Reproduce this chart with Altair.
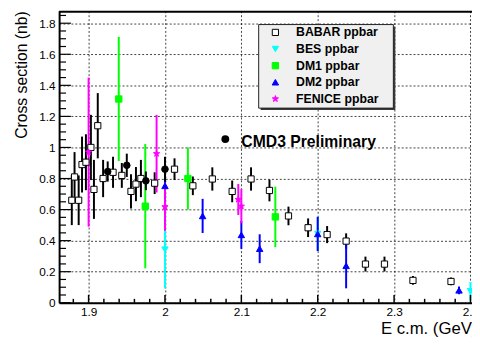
import altair as alt
import pandas as pd

FONT = "Liberation Sans"

# ---------------- data ----------------
babar_e = [1.878, 1.8816, 1.887, 1.8914, 1.8965, 1.903, 1.907, 1.912, 1.919, 1.932,
           1.9435, 1.9555, 1.962, 1.9685, 1.9865, 2.0125, 2.0365, 2.062, 2.088, 2.1127,
           2.1368, 2.1617, 2.1874, 2.2123, 2.2372, 2.2625, 2.2874, 2.3247, 2.3745]
babar_v = [0.66, 0.81, 0.66, 0.89, 0.905, 1.00, 0.73, 1.14, 0.80, 0.84,
           0.82, 0.717, 0.764, 0.80, 0.77, 0.86, 0.753, 0.797, 0.717, 0.797,
           0.723, 0.559, 0.483, 0.439, 0.397, 0.249, 0.249, 0.144, 0.137]
babar_err = [0.16, 0.16, 0.16, 0.18, 0.18, 0.21, 0.19, 0.21, 0.12, 0.10,
             0.08, 0.11, 0.11, 0.12, 0.07, 0.07, 0.06, 0.075, 0.07, 0.075,
             0.07, 0.06, 0.06, 0.055, 0.05, 0.048, 0.048, 0.028, 0.025]

bes_e = [2.0, 2.2, 2.4]
bes_v = [0.342, 0.443, 0.074]
bes_err = [0.25, 0.11, 0.06]

dm1_e = [1.9395, 1.9742, 2.030, 2.1445]
dm1_v = [1.312, 0.622, 0.80, 0.553]
dm1_err = [0.40, 0.40, 0.20, 0.195]

dm2_e = [2.0, 2.0493, 2.1, 2.124, 2.2, 2.2372, 2.385]
dm2_v = [0.753, 0.559, 0.437, 0.348, 0.443, 0.238, 0.08]
dm2_err = [0.10, 0.11, 0.09, 0.093, 0.11, 0.145, 0.025]

fenice_e = [1.9, 1.989, 2.0, 2.096, 2.1]
fenice_v = [0.97, 0.96, 0.618, 0.665, 0.622]
fenice_err = [0.48, 0.25, 0.155, 0.10, 0.11]

cmd3_e = [1.925, 1.95, 1.975, 2.0]
cmd3_v = [0.845, 0.885, 0.785, 0.86]
cmd3_err = [0.065, 0.075, 0.06, 0.08]

series = ["BABAR ppbar", "BES ppbar", "DM1 ppbar", "DM2 ppbar", "FENICE ppbar", "CMD3"]
legend_series = series[:5]

x_major = [1.9, 2.0, 2.1, 2.2, 2.3, 2.4]
x_minor = [1.88, 1.92, 1.94, 1.96, 1.98, 2.02, 2.04, 2.06, 2.08, 2.12, 2.14, 2.16, 2.18,
           2.22, 2.24, 2.26, 2.28, 2.32, 2.34, 2.36, 2.38]
y_major = [0, 0.2, 0.4, 0.6, 0.8, 1.0, 1.2, 1.4, 1.6, 1.8]
y_minor = [0.05, 0.1, 0.15, 0.25, 0.3, 0.35, 0.45, 0.5, 0.55, 0.65, 0.7, 0.75,
           0.85, 0.9, 0.95, 1.05, 1.1, 1.15, 1.25, 1.3, 1.35, 1.45, 1.5, 1.55,
           1.65, 1.7, 1.75, 1.85]

annot_text = "CMD3 Preliminary"
annot_x, annot_y = 2.1, 1.0
annot_dot_x, annot_dot_y = 2.079, 1.054

# ---------------- styles ----------------
STAR = ("M0,-1L0.235,-0.324L0.951,-0.309L0.38,0.124L0.588,0.809L0,0.4"
        "L-0.588,0.809L-0.38,0.124L-0.951,-0.309L-0.235,-0.324Z")
colors = ["#000000", "#00ffff", "#00ff00", "#0000ff", "#ff00ff", "#000000"]
fills = ["#ffffff", "#00ffff", "#00ff00", "#0000ff", "#ff00ff", "#000000"]
shapes = ["square", "triangle-down", "square", "triangle-up", STAR, "circle"]
sizes = [40, 45, 45, 45, 70, 64]

W, H = 420, 297

# ---------------- tables ----------------
parts = []
for name, e, v, err in [
    (series[0], babar_e, babar_v, babar_err),
    (series[1], bes_e, bes_v, bes_err),
    (series[2], dm1_e, dm1_v, dm1_err),
    (series[3], dm2_e, dm2_v, dm2_err),
    (series[4], fenice_e, fenice_v, fenice_err),
    (series[5], cmd3_e, cmd3_v, cmd3_err),
]:
    parts.append(pd.DataFrame({"s": name, "E": e, "v": v, "err": err}))
df = pd.concat(parts, ignore_index=True)
df["lo"] = df["v"] - df["err"]
df["hi"] = df["v"] + df["err"]

leg = pd.DataFrame({"s": legend_series, "i": list(range(len(legend_series)))})

xscale = alt.Scale(domain=[1.8614, 2.402], nice=False, zero=False)
yscale = alt.Scale(domain=[0, 1.88], nice=False, zero=False)
cscale = alt.Scale(domain=series, range=colors)
fscale = alt.Scale(domain=series, range=fills)
shscale = alt.Scale(domain=series, range=shapes)
szscale = alt.Scale(domain=series, range=sizes)

xaxis = alt.Axis(values=x_major, format="~g", title="E c.m. (GeV)", ticks=False,
                 domainWidth=2, domainColor="black", labelFont=FONT, labelFontSize=12,
                 labelColor="black", labelPadding=4, labelFlush=False, labelOverlap=False,
                 grid=True, gridDash=[2, 2], gridColor="black", gridWidth=1, gridOpacity=0.75,
                 titleFont=FONT, titleFontSize=17, titleFontWeight="normal", titleColor="black",
                 titleX=425, titleY=31, titleAlign="right", titleBaseline="alphabetic")
yaxis = alt.Axis(values=y_major, format="~g", title="Cross section (nb)", ticks=False,
                 domainWidth=2, domainColor="black", labelFont=FONT, labelFontSize=12,
                 labelColor="black", labelPadding=4, labelFlush=False, labelOverlap=False,
                 grid=True, gridDash=[2, 2], gridColor="black", gridWidth=1, gridOpacity=0.75,
                 titleFont=FONT, titleFontSize=16, titleFontWeight="normal", titleColor="black",
                 titleX=-33, titleY=0, titleAngle=270, titleAlign="right",
                 titleBaseline="alphabetic")


def X(field):
    return alt.X(field, scale=xscale, axis=xaxis)


def Y(field):
    return alt.Y(field, scale=yscale, axis=yaxis)


one = pd.DataFrame({"a": [0]})

bars = alt.Chart(df).mark_rule(strokeWidth=2).encode(
    x=X("E:Q"), y=Y("lo:Q"), y2="hi:Q",
    color=alt.Color("s:N", scale=cscale, legend=None),
)

pts = alt.Chart(df).mark_point(opacity=1, strokeWidth=1).encode(
    x=X("E:Q"), y=Y("v:Q"),
    shape=alt.Shape("s:N", scale=shscale, legend=None),
    fill=alt.Fill("s:N", scale=fscale, legend=None),
    stroke=alt.Stroke("s:N", scale=cscale, legend=None),
    size=alt.Size("s:N", scale=szscale, legend=None),
)

ytick_minor = alt.Chart(pd.DataFrame({"v": y_minor})).mark_rule(color="black", strokeWidth=1.2).encode(
    y=Y("v:Q"), x=alt.value(0), x2=alt.value(7))
ytick_major = alt.Chart(pd.DataFrame({"v": y_major})).mark_rule(color="black", strokeWidth=1.2).encode(
    y=Y("v:Q"), x=alt.value(0), x2=alt.value(12))
xtick_minor = alt.Chart(pd.DataFrame({"E": x_minor})).mark_rule(color="black", strokeWidth=1.5).encode(
    x=X("E:Q"), y=alt.value(H), y2=alt.value(H - 4))
xtick_major = alt.Chart(pd.DataFrame({"E": x_major})).mark_rule(color="black", strokeWidth=1.5).encode(
    x=X("E:Q"), y=alt.value(H), y2=alt.value(H - 8))

top_line = alt.Chart(one).mark_rule(color="black", strokeWidth=2).encode(
    x=alt.value(0), x2=alt.value(W + 20), y=alt.value(1))

leg_shadow = alt.Chart(one).mark_rect(fill="#3a3a3a").encode(
    x=alt.value(205), x2=alt.value(342), y=alt.value(16), y2=alt.value(101))
leg_box = alt.Chart(one).mark_rect(fill="#f0f0f0", stroke="#222222", strokeWidth=1).encode(
    x=alt.value(203), x2=alt.value(340), y=alt.value(14), y2=alt.value(99))

leg_base = alt.Chart(leg).transform_calculate(py="22 + 16.9 * datum.i")
leg_pts = leg_base.mark_point(opacity=1, strokeWidth=1).encode(
    x=alt.value(220),
    y=alt.Y("py:Q", scale=None),
    shape=alt.Shape("s:N", scale=shscale, legend=None),
    fill=alt.Fill("s:N", scale=fscale, legend=None),
    stroke=alt.Stroke("s:N", scale=cscale, legend=None),
    size=alt.Size("s:N", scale=szscale, legend=None),
)
leg_txt = leg_base.mark_text(align="left", baseline="middle", font=FONT, fontSize=12.5,
                             fontWeight="bold", color="black").encode(
    x=alt.value(241), y=alt.Y("py:Q", scale=None), text="s:N")

annot = pd.DataFrame({"E": [annot_x], "v": [annot_y], "t": [annot_text]})
annot_dot = pd.DataFrame({"E": [annot_dot_x], "v": [annot_dot_y]})
ann_txt = alt.Chart(annot).mark_text(align="left", baseline="alphabetic", font=FONT,
                                     fontSize=16, fontWeight="bold", color="black").encode(
    x=X("E:Q"), y=Y("v:Q"), text="t:N")
ann_dot = alt.Chart(annot_dot).mark_point(shape="circle", filled=True, opacity=1,
                                          color="black", size=64).encode(
    x=X("E:Q"), y=Y("v:Q"))

chart = alt.layer(
    bars, ytick_minor, ytick_major, xtick_minor, xtick_major, top_line,
    pts, leg_shadow, leg_box, leg_pts, leg_txt, ann_dot, ann_txt,
).properties(
    width=W, height=H,
    autosize=alt.AutoSizeParams(type="none"),
    padding={"left": 52, "top": 0, "right": 0, "bottom": 32},
    background="white",
).configure_view(stroke=None)

chart.save("out.html", embed_options={"renderer": "svg", "actions": False})
